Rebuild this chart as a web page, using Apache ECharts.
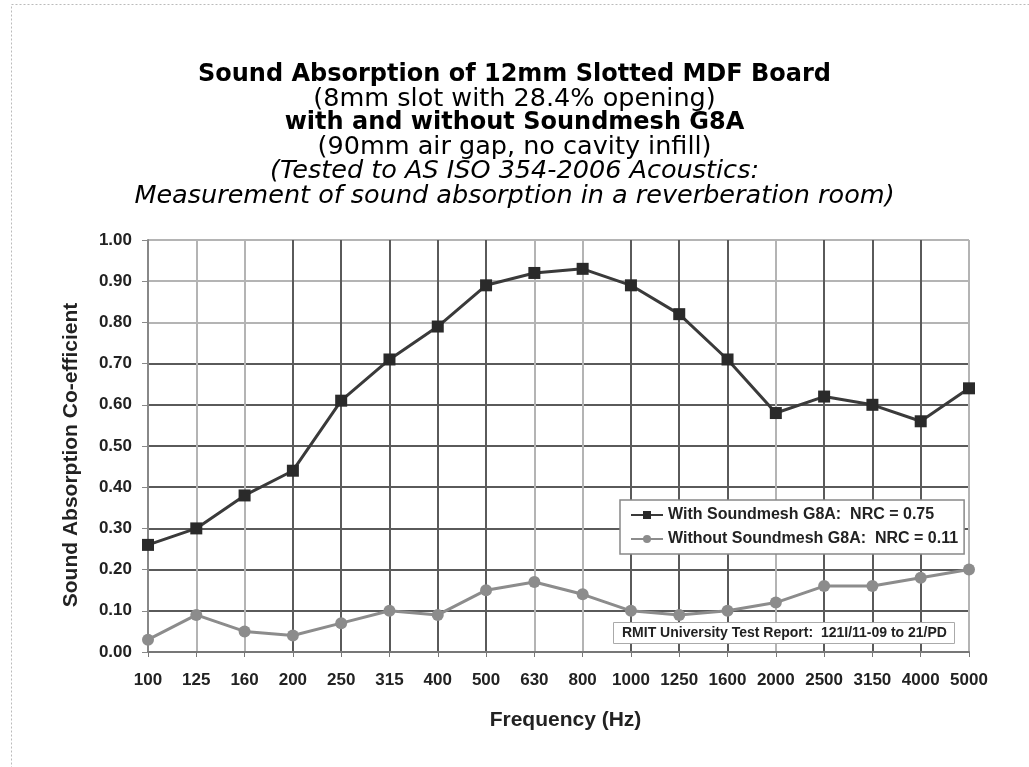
<!DOCTYPE html>
<html>
<head>
<meta charset="utf-8">
<script src="https://cdn.jsdelivr.net/npm/echarts@6/dist/echarts.min.js"></script>
<style>
  html, body { margin: 0; padding: 0; background: #fff; }
  #chart { width: 1029px; height: 767px; }
</style>
</head>
<body>
<div id="chart"></div>
<script>
// frequency bands (Hz)
let frequencies = ['100', '125', '160', '200', '250', '315', '400', '500', '630', '800',
    '1000', '1250', '1600', '2000', '2500', '3150', '4000', '5000'];
// absorption coefficients
let withMesh = [0.26, 0.30, 0.38, 0.44, 0.61, 0.71, 0.79, 0.89, 0.92, 0.93,
    0.89, 0.82, 0.71, 0.58, 0.62, 0.60, 0.56, 0.64];
let withoutMesh = [0.03, 0.09, 0.05, 0.04, 0.07, 0.10, 0.09, 0.15, 0.17, 0.14,
    0.10, 0.09, 0.10, 0.12, 0.16, 0.16, 0.18, 0.20];
let withName = 'With Soundmesh G8A:  NRC = 0.75';
let withoutName = 'Without Soundmesh G8A:  NRC = 0.11';

let dark = '#5a5a5a';
let light = '#b4b4b4';
// gridline shades, like the scanned original
let vGrid = [dark, light, light, dark, dark, dark, dark, dark, light, light,
    dark, dark, dark, light, dark, dark, dark, light];
let hGrid = [dark, dark, dark, dark, dark, dark, dark, dark, light, light, light];

let chart = echarts.init(document.getElementById('chart'));
let titleFont = '"DejaVu Sans", Verdana, sans-serif';
let axisFont = '"Liberation Sans", Arial, sans-serif';

let option = {
    backgroundColor: '#fff',
    animation: false,
    title: [
        {
            text: '{b|Sound Absorption of 12mm Slotted MDF Board}\n' +
                '{n|(8mm slot with 28.4% opening)}\n' +
                '{b|with and without Soundmesh G8A}\n' +
                '{n|(90mm air gap, no cavity infill)}\n' +
                '{i|(Tested to AS ISO 354-2006 Acoustics:}\n' +
                '{i|Measurement of sound absorption in a reverberation room)}',
            left: 'center',
            top: 63,
            padding: [0, 0, 0, 24],
            textStyle: {
                fontWeight: 'normal',
                rich: {
                    b: { fontFamily: titleFont, fontSize: 24, fontWeight: 'bold', color: '#000', lineHeight: 24 },
                    n: { fontFamily: titleFont, fontSize: 25.5, fontWeight: 'normal', color: '#000', lineHeight: 24 },
                    i: { fontFamily: titleFont, fontSize: 25.5, fontWeight: 'normal', fontStyle: 'italic', color: '#000', lineHeight: 25 }
                }
            }
        },
        {
            text: 'RMIT University Test Report:  121I/11-09 to 21/PD',
            left: 613,
            top: 622,
            padding: [4, 8, 4, 9],
            backgroundColor: '#fff',
            borderColor: '#aaa',
            borderWidth: 1,
            textStyle: {
                fontFamily: axisFont,
                fontSize: 14,
                fontWeight: 'bold',
                color: '#222'
            }
        }
    ],
    legend: {
        orient: 'vertical',
        left: 620,
        top: 500,
        padding: [7, 6, 7, 10],
        itemGap: 8,
        itemWidth: 32,
        itemHeight: 10,
        backgroundColor: '#fff',
        borderColor: '#888',
        borderWidth: 1.5,
        textStyle: {
            fontFamily: axisFont,
            fontSize: 16,
            fontWeight: 'bold',
            color: '#222'
        },
        data: [withName, withoutName]
    },
    grid: {
        left: 148,
        right: 60,
        top: 240,
        bottom: 115
    },
    xAxis: {
        type: 'category',
        data: frequencies,
        boundaryGap: false,
        name: 'Frequency (Hz)',
        nameLocation: 'middle',
        nameGap: 58,
        nameTextStyle: {
            fontFamily: axisFont,
            fontSize: 21,
            fontWeight: 'bold',
            color: '#222',
            padding: [0, 0, 0, 14]
        },
        axisLine: { lineStyle: { color: '#777', width: 2 } },
        axisTick: { show: true, length: 5, lineStyle: { color: '#777' } },
        axisLabel: {
            fontFamily: axisFont,
            fontSize: 17,
            fontWeight: 'bold',
            color: '#222',
            margin: 20,
            interval: 0
        },
        splitLine: { show: true, lineStyle: { color: vGrid, width: 2 } }
    },
    yAxis: {
        type: 'value',
        min: 0,
        max: 1,
        interval: 0.1,
        name: 'Sound Absorption Co-efficient',
        nameLocation: 'middle',
        nameGap: 66,
        nameTextStyle: {
            fontFamily: axisFont,
            fontSize: 21,
            fontWeight: 'bold',
            color: '#222',
            padding: [0, 18, 0, 0]
        },
        axisLine: { show: true, lineStyle: { color: '#888', width: 2 } },
        axisTick: { show: true, length: 6, lineStyle: { color: '#888' } },
        axisLabel: {
            fontFamily: axisFont,
            fontSize: 17,
            fontWeight: 'bold',
            color: '#222',
            margin: 16,
            formatter: function (v) {
                return v.toFixed(2);
            }
        },
        splitLine: { show: true, lineStyle: { color: hGrid, width: 2 } }
    },
    series: [
        {
            name: withName,
            type: 'line',
            data: withMesh,
            symbol: 'rect',
            symbolSize: 12,
            lineStyle: { color: '#3a3a3a', width: 3 },
            itemStyle: { color: '#2a2a2a' },
            z: 3
        },
        {
            name: withoutName,
            type: 'line',
            data: withoutMesh,
            symbol: 'circle',
            symbolSize: 12,
            lineStyle: { color: '#8c8c8c', width: 3 },
            itemStyle: { color: '#8c8c8c' },
            z: 2
        }
    ],
    graphic: [
        {
            type: 'rect',
            left: 9,
            top: 2,
            shape: { width: 1040, height: 800 },
            style: { fill: 'none', stroke: '#bbb', lineWidth: 1, lineDash: [2, 2] },
            silent: true
        }
    ]
};
chart.setOption(option);
</script>
</body>
</html>
